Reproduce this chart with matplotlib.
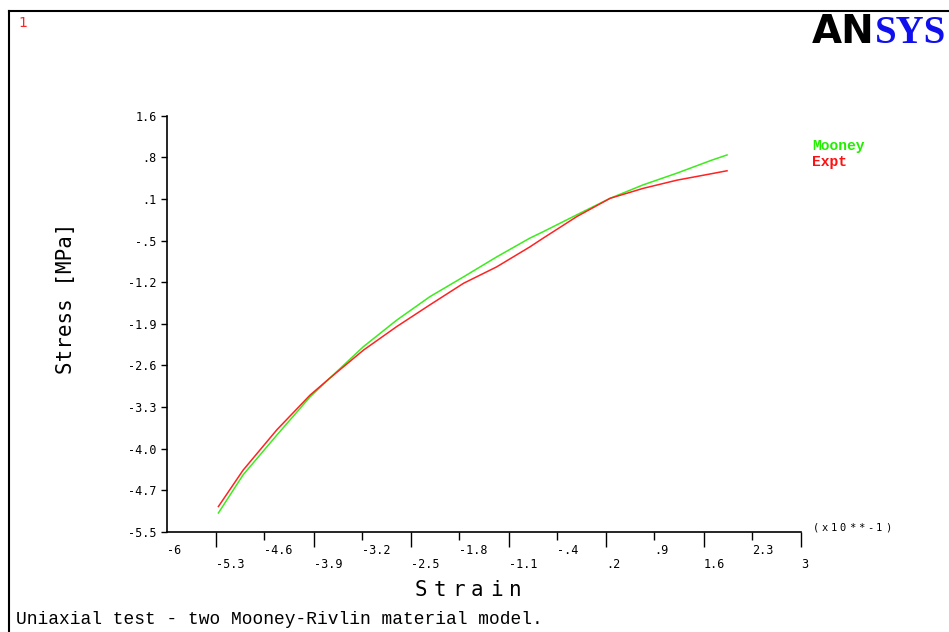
import matplotlib.pyplot as plt
from matplotlib.lines import Line2D

# strain in units of 10**-1, stress in MPa
strain = [-5.27, -4.92, -4.44, -3.97, -3.69, -3.21, -2.74, -2.27, -1.79,
          -1.32, -0.85, -0.66, -0.18, 0.29, 0.76, 1.24, 1.73, 1.95]
mooney = [-5.18, -4.53, -3.85, -3.20, -2.88, -2.34, -1.89, -1.49, -1.15,
          -0.81, -0.49, -0.38, -0.09, 0.19, 0.42, 0.62, 0.84, 0.93]
expt = [-5.07, -4.45, -3.76, -3.17, -2.88, -2.40, -2.00, -1.63, -1.26,
        -0.98, -0.64, -0.49, -0.12, 0.19, 0.36, 0.50, 0.61, 0.66]

y_ticks = [1.6, 0.89, 0.18, -0.53, -1.24, -1.95, -2.66, -3.37, -4.08, -4.79, -5.5]
y_labels = ["1.6", ".8", ".1", "-.5", "-1.2", "-1.9", "-2.6", "-3.3", "-4.0", "-4.7", "-5.5"]
x_upper = [-6, -4.62, -3.23, -1.85, -0.46, 0.92, 2.31]
x_upper_labels = ["-6", "-4.6", "-3.2", "-1.8", "-.4", ".9", "2.3"]
x_lower = [-5.31, -3.92, -2.54, -1.15, 0.23, 1.62, 3]
x_lower_labels = ["-5.3", "-3.9", "-2.5", "-1.1", ".2", "1.6", "3"]

GREEN = "#3cec1c"
RED = "#ff2222"
W, H = 949, 632


def spaced_text(fig, x, y, s, pitch, **kw):
    # ANSYS stroke fonts are set with wide letter spacing; place chars one by one
    for i, ch in enumerate(s):
        fig.text((x + i * pitch) / W, 1 - y / H, ch, ha="center", va="center", **kw)


fig = plt.figure(figsize=(W / 100, H / 100), dpi=100)
ax = fig.add_axes([167 / W, 1 - 531.7 / H, 634 / W, 416 / H])

ax.plot(strain, mooney, color=GREEN, lw=1.1)
ax.plot(strain, expt, color=RED, lw=1.1)

ax.set_xlim(-6, 3)
ax.set_ylim(-5.5, 1.6)
for side in ("top", "right"):
    ax.spines[side].set_visible(False)
for side in ("left", "bottom"):
    ax.spines[side].set_linewidth(1.2)

tick_font = dict(family="DejaVu Sans Mono", size=8.5)
ax.set_yticks(y_ticks, labels=y_labels, **tick_font)
ax.tick_params(axis="y", length=4.5, width=1.0, pad=3)

ax.set_xticks(x_upper, labels=x_upper_labels, ha="left", **tick_font)
ax.set_xticks(x_lower, labels=x_lower_labels, minor=True, ha="left", **tick_font)
ax.tick_params(axis="x", which="major", length=6, width=1.0, pad=3)
ax.tick_params(axis="x", which="minor", length=11, width=1.0, pad=8)
ax.xaxis.get_major_ticks()[0].tick1line.set_visible(False)

# axis titles and annotations
fig.text(66 / W, 1 - 298 / H, "Stress [MPa]", rotation=90, ha="center", va="center",
         family="DejaVu Sans Mono", size=15)
spaced_text(fig, 421, 590, "Strain", 18.8, family="DejaVu Sans Mono", size=15)
spaced_text(fig, 816, 528, "(x10**-1)", 9.0, family="DejaVu Sans Mono", size=7.5)
fig.text(812 / W, 1 - 146 / H, "Mooney", ha="left", va="center", color="#22ee00",
         family="Liberation Mono", weight="bold", size=10.5)
fig.text(812 / W, 1 - 162 / H, "Expt", ha="left", va="center", color="#ff1111",
         family="Liberation Mono", weight="bold", size=10.5)
fig.text(16 / W, 1 - 620 / H, "Uniaxial test - two Mooney-Rivlin material model.",
         ha="left", va="center", family="Liberation Mono", size=12.85)
fig.text(18 / W, 1 - 23 / H, "1", ha="left", va="center", color="#ff2222",
         family="DejaVu Sans", size=10)

# ANSYS logo in the top-right corner
fig.text(812 / W, 1 - 43 / H, "AN", ha="left", va="baseline", color="black",
         family="DejaVu Sans", weight="heavy", size=28)
fig.text(875 / W, 1 - 43 / H, "SYS", ha="left", va="baseline", color="#1010ee",
         family="Liberation Serif", weight="bold", size=28)

# window frame
fig.add_artist(Line2D([9 / W, 1], [1 - 11 / H, 1 - 11 / H], color="black", lw=1.5))
fig.add_artist(Line2D([9 / W, 9 / W], [0, 1 - 11 / H], color="black", lw=1.5))

fig.savefig("out.png", dpi=100)
plt.close(fig)
